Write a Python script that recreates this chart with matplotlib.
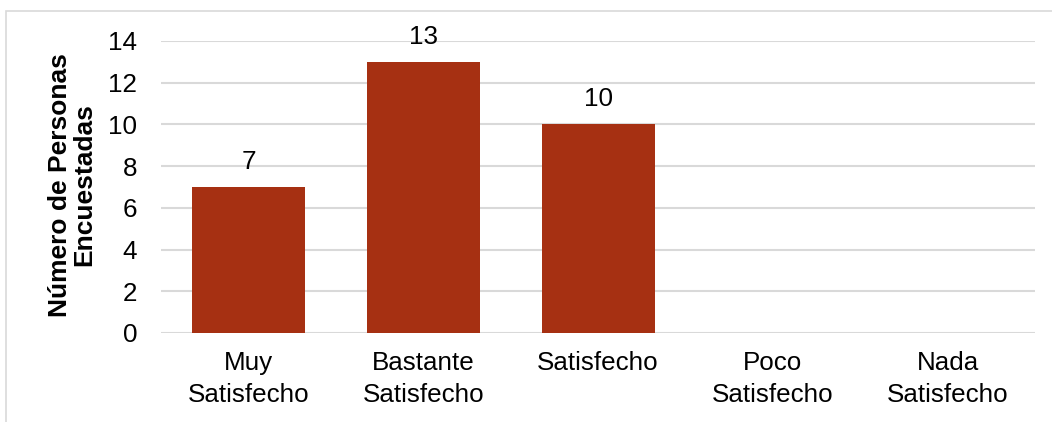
import matplotlib
matplotlib.use("Agg")
import matplotlib.pyplot as plt
from matplotlib.patches import Rectangle

# data
categories = ["Muy\nSatisfecho", "Bastante\nSatisfecho", "Satisfecho", "Poco\nSatisfecho", "Nada\nSatisfecho"]
values = [7, 13, 10, 0, 0]
yticks = [0, 2, 4, 6, 8, 10, 12, 14]

plt.rcParams['font.family'] = ['Liberation Sans', 'DejaVu Sans']
fs = 18.7

fig = plt.figure(figsize=(10.52, 4.22), dpi=100)
ax = fig.add_axes([0.153, 0.211, 0.831, 0.692])

x = list(range(len(categories)))
bars = ax.bar(x, values, width=0.646, color="#A63012", zorder=3)
for b, v in zip(bars, values):
    if v > 0:
        ax.text(b.get_x() + b.get_width() / 2, v + 0.86, str(v),
                ha="center", va="baseline", fontsize=fs, color="#000000")

ax.set_xlim(-0.5, len(categories) - 0.5)
ax.set_ylim(0, 14)
ax.set_yticks(yticks)
ax.set_xticks(x)
ax.set_xticklabels(categories, fontsize=fs, linespacing=1.4)
ax.tick_params(axis="y", length=0, pad=17, labelsize=fs)
ax.tick_params(axis="x", length=0, pad=13)
ax.grid(axis="y", color="#D9D9D9", linewidth=1.5, zorder=0)
for s in ax.spines.values():
    s.set_visible(False)

fig.text(72 / 1052, 0.562, "Número de Personas\nEncuestadas", rotation=90,
         ha="center", va="center", fontsize=19, fontweight="bold", linespacing=1.0)

# outer border
fig.patches.append(Rectangle((5.5 / 1052, -0.1), 1.2, 1.1 - 11.5 / 422,
                             transform=fig.transFigure, fill=False,
                             edgecolor="#D9D9D9", linewidth=1.2))

fig.savefig("out.png", dpi=100)
